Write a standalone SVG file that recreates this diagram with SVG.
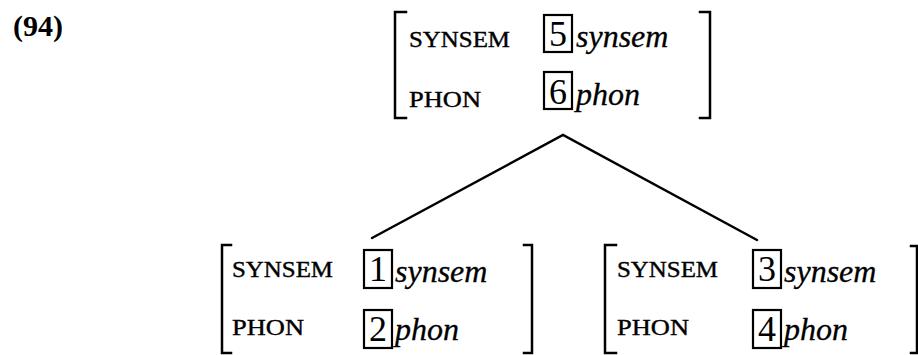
<svg xmlns="http://www.w3.org/2000/svg" width="918" height="355" viewBox="0 0 918 355">
<style>
.br{fill:none;stroke:#000;stroke-width:2.5;stroke-linecap:square}
.bx{fill:none;stroke:#000;stroke-width:2.2}
.ft{font-family:"Liberation Serif",serif;font-size:23.5px;fill:#000;stroke:#000;stroke-width:0.4}
.tg{font-family:"Liberation Serif",serif;font-size:36px;fill:#000;text-anchor:middle}
.ty{font-family:"Liberation Serif",serif;font-size:32px;font-style:italic;fill:#000;stroke:#000;stroke-width:0.3}
.lbl{font-family:"Liberation Serif",serif;font-size:30px;font-weight:bold;fill:#000}
.ln{fill:none;stroke:#000;stroke-width:2.5;stroke-linecap:round}
</style>
<rect width="918" height="355" fill="#fff"/>
<text class="lbl" x="13" y="36">(94)</text>
<g id="connectors">
<path class="ln" d="M372 238 L563 135 L757 240"/>
</g>
<g id="node-top">
<path class="br" d="M406 12 H395 V118 H406"/>
<path class="br" d="M700 12 H710 V118 H700"/>
<text class="ft" x="409" y="47" textLength="101" lengthAdjust="spacingAndGlyphs">SYNSEM</text>
<text class="ft" x="409" y="107" textLength="72" lengthAdjust="spacingAndGlyphs">PHON</text>
<rect class="bx" x="544" y="15" width="28" height="37"/>
<text class="tg" x="558" y="46">5</text>
<text class="ty" x="576" y="47">synsem</text>
<rect class="bx" x="544" y="72" width="28" height="37"/>
<text class="tg" x="558" y="104">6</text>
<text class="ty" x="576" y="105">phon</text>
</g>
<g id="node-left">
<path class="br" d="M231 245 H222 V353 H231"/>
<path class="br" d="M524 245 H532 V353 H524"/>
<text class="ft" x="232" y="277" textLength="101" lengthAdjust="spacingAndGlyphs">SYNSEM</text>
<text class="ft" x="232" y="335" textLength="72" lengthAdjust="spacingAndGlyphs">PHON</text>
<rect class="bx" x="364" y="250" width="28" height="38"/>
<text class="tg" x="378" y="281">1</text>
<text class="ty" x="395" y="282">synsem</text>
<rect class="bx" x="364" y="310" width="28" height="38"/>
<text class="tg" x="378" y="341">2</text>
<text class="ty" x="395" y="340">phon</text>
</g>
<g id="node-right">
<path class="br" d="M616 245 H605 V353 H616"/>
<path class="br" d="M911 246 H917 V353 H911"/>
<text class="ft" x="617" y="277" textLength="101" lengthAdjust="spacingAndGlyphs">SYNSEM</text>
<text class="ft" x="617" y="335" textLength="72" lengthAdjust="spacingAndGlyphs">PHON</text>
<rect class="bx" x="753" y="250" width="28" height="38"/>
<text class="tg" x="767" y="281">3</text>
<text class="ty" x="784" y="282">synsem</text>
<rect class="bx" x="753" y="310" width="28" height="38"/>
<text class="tg" x="767" y="341">4</text>
<text class="ty" x="784" y="340">phon</text>
</g>
</svg>
